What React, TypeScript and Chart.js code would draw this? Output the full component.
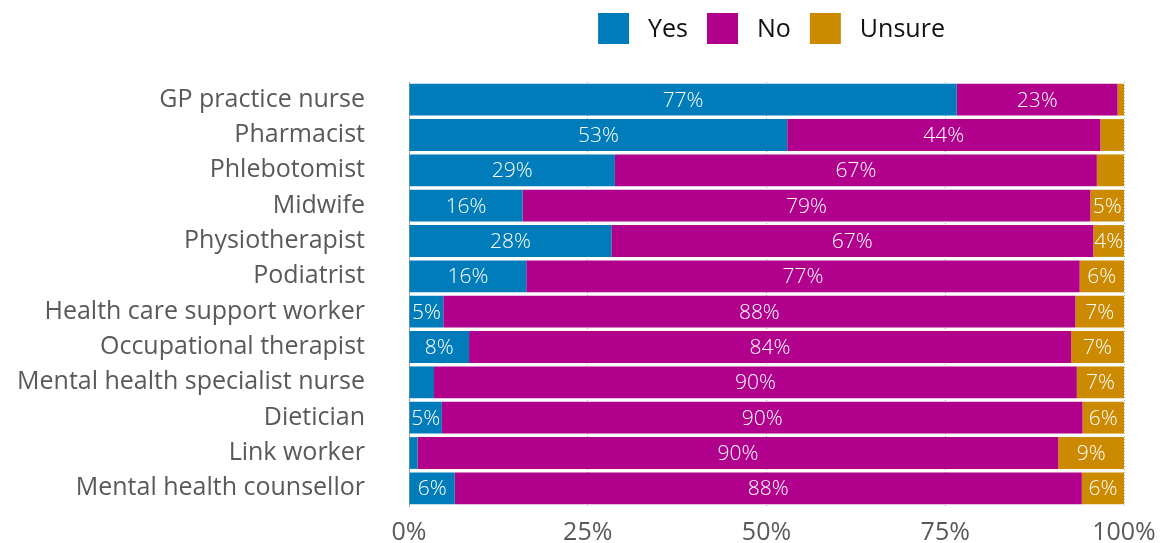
import React, { useEffect, useRef } from "react";
import { Chart, registerables } from "chart.js";

Chart.register(...registerables);

const categories = [
  "GP practice nurse",
  "Pharmacist",
  "Phlebotomist",
  "Midwife",
  "Physiotherapist",
  "Podiatrist",
  "Health care support worker",
  "Occupational therapist",
  "Mental health specialist nurse",
  "Dietician",
  "Link worker",
  "Mental health counsellor",
];

const yesValues = [76.6, 52.9, 28.8, 15.9, 28.3, 16.4, 4.8, 8.4, 3.5, 4.6, 1.2, 6.4];
const noValues = [22.5, 43.8, 67.4, 79.4, 67.4, 77.4, 88.4, 84.2, 89.9, 89.6, 89.6, 87.7];
const unsureValues = [0.9, 3.3, 3.8, 4.7, 4.3, 6.2, 6.8, 7.4, 6.6, 5.8, 9.2, 5.9];

const seriesNames = ["Yes", "No", "Unsure"];
const seriesColors = ["#007cba", "#b0008c", "#cc8a00"];
const xTicks = [0, 25, 50, 75, 100];

const FONT = "'Open Sans', 'DejaVu Sans', sans-serif";

const labelPlugin = {
  id: "segLabels",
  afterDatasetsDraw(chart: any) {
    const ctx = chart.ctx;
    ctx.save();
    ctx.font = `300 21px ${FONT}`;
    ctx.fillStyle = "#ffffff";
    ctx.textAlign = "center";
    ctx.textBaseline = "middle";
    chart.data.datasets.forEach((ds: any, di: number) => {
      const meta = chart.getDatasetMeta(di);
      meta.data.forEach((bar: any, i: number) => {
        const v = ds.data[i];
        if (v < 4) return;
        const cx = (bar.x + bar.base) / 2;
        ctx.fillText(Math.round(v) + "%", cx, bar.y + 1);
      });
    });
    ctx.restore();
  },
};

const legendPlugin = {
  id: "customLegend",
  afterDraw(chart: any) {
    const ctx = chart.ctx;
    ctx.save();
    ctx.font = `400 25px ${FONT}`;
    const box = 31;
    const gap = 19;
    const widths = seriesNames.map((n) => ctx.measureText(n).width);
    const total =
      widths.reduce((a, b) => a + b, 0) + seriesNames.length * (box + gap) + (seriesNames.length - 1) * gap;
    const center = (chart.chartArea.left + chart.chartArea.right) / 2 + 5;
    let x = center - total / 2;
    const yc = 28.5;
    ctx.textBaseline = "middle";
    ctx.textAlign = "left";
    seriesNames.forEach((n, i) => {
      ctx.fillStyle = seriesColors[i];
      ctx.fillRect(x, yc - box / 2, box, box);
      x += box + gap;
      ctx.fillStyle = "#111111";
      ctx.fillText(n, x, yc + 1);
      x += widths[i] + gap;
    });
    ctx.restore();
  },
};

export default function App() {
  const ref = useRef<HTMLCanvasElement | null>(null);

  useEffect(() => {
    if (!ref.current) return;
    const chart = new Chart(ref.current, {
      type: "bar",
      data: {
        labels: categories,
        datasets: [yesValues, noValues, unsureValues].map((d, i) => ({
          label: seriesNames[i],
          data: d,
          backgroundColor: seriesColors[i],
          borderWidth: 0,
          barPercentage: 0.9,
          categoryPercentage: 1,
        })),
      },
      options: {
        indexAxis: "y",
        animation: false,
        responsive: false,
        maintainAspectRatio: false,
        devicePixelRatio: 1,
        layout: { padding: { top: 82, right: 39, left: 0, bottom: 0 } },
        plugins: {
          legend: { display: false },
          tooltip: { enabled: false },
        },
        scales: {
          x: {
            stacked: true,
            min: 0,
            max: 100,
            afterBuildTicks: (scale: any) => {
              scale.ticks = xTicks.map((v) => ({ value: v }));
            },
            afterFit: (scale: any) => {
              scale.height = 37;
            },
            ticks: {
              padding: 0,
              color: "#595959",
              font: { family: FONT, size: 25 },
              callback: (v: any) => v + "%",
              maxRotation: 0,
            },
            grid: {
              drawTicks: true,
              tickLength: 12,
              tickColor: "rgba(0,0,0,0)",
              color: "#b0b0b0",
              lineWidth: 1,
            },
            border: { display: false, dash: [1, 2] },
          },
          y: {
            stacked: true,
            afterFit: (scale: any) => {
              scale.width = 409;
            },
            ticks: {
              padding: 0,
              color: "#595959",
              font: { family: FONT, size: 25 },
            },
            grid: {
              display: true,
              drawOnChartArea: false,
              drawTicks: true,
              tickLength: 44,
              tickColor: "rgba(0,0,0,0)",
              color: "rgba(0,0,0,0)",
            },
            border: { display: true, color: "#a0a0a0", dash: [1, 2], width: 1 },
          },
        },
      } as any,
      plugins: [labelPlugin, legendPlugin],
    });
    return () => chart.destroy();
  }, []);

  return (
    <div style={{ position: "fixed", left: 0, top: 0, width: 1163, height: 543, background: "#ffffff" }}>
      <canvas ref={ref} width={1163} height={543} style={{ display: "block", width: 1163, height: 543 }} />
    </div>
  );
}
